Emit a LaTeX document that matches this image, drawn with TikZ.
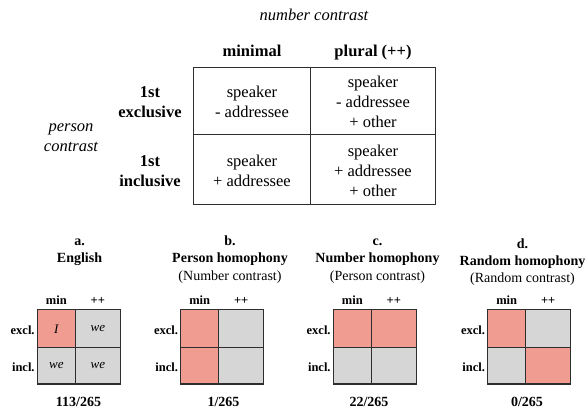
\documentclass[tikz,border=0pt]{standalone}
\usepackage{fontspec}
\setmainfont{Liberation Serif}
\definecolor{pinkc}{HTML}{F19C91}
\definecolor{grayc}{HTML}{D6D6D6}
\definecolor{linec}{HTML}{2E2E2E}
\newcommand\myBig{\fontsize{16.5}{20}\selectfont}
\newcommand\myMid{\fontsize{14}{17}\selectfont}
\newcommand\mySm{\fontsize{12.5}{15}\selectfont}
\newcommand\myWe{\fontsize{13}{15}\selectfont}
\newcommand\minigrid[6]{%
  \node[cellbox, minimum width=38pt, minimum height=38.3pt, fill=#3] (#1-11) at (#2+19,328.65) {};
  \node[cellbox, minimum width=45pt, minimum height=38.3pt, fill=#4] (#1-12) at (#2+60.5,328.65) {};
  \node[cellbox, minimum width=38pt, minimum height=36.2pt, fill=#5] (#1-21) at (#2+19,365.9) {};
  \node[cellbox, minimum width=45pt, minimum height=36.2pt, fill=#6] (#1-22) at (#2+60.5,365.9) {};
  \node[smb] (#1-min) at (#2+19,304) {min};
  \node[smb] (#1-pp) at (#2+60.5,304) {++};
  \node[smb, anchor=base east] (#1-excl) at (#2-2.5,334.5) {excl.};
  \node[smb, anchor=base east] (#1-incl) at (#2-2.5,371.5) {incl.};
}
\begin{document}
\begin{tikzpicture}[x=1pt,y=-1pt,
  txt/.style={anchor=base, inner sep=0pt},
  big/.style={txt, font=\myBig},
  bigb/.style={txt, font=\myBig\bfseries},
  bigi/.style={txt, font=\myBig\itshape},
  mid/.style={txt, font=\myMid},
  midb/.style={txt, font=\myMid\bfseries},
  smb/.style={txt, font=\mySm\bfseries},
  wetext/.style={txt, font=\myWe\itshape},
  cellbox/.style={draw=linec, line width=1.2pt, inner sep=0pt}]
\useasboundingbox (0,0) rectangle (587,410);

% ---------- top table ----------
\node[bigi] (numc) at (314,20) {number contrast};
\node[bigb] (hmin) at (252,56) {minimal};
\node[bigb] (hplu) at (373,56) {plural (++)};
\node[bigb] (r1a) at (150,97.3) {1st};
\node[bigb] (r1b) at (150,117.3) {exclusive};
\node[bigb] (r2a) at (150,166) {1st};
\node[bigb] (r2b) at (150,186) {inclusive};
\node[bigi] (perA) at (71,131) {person};
\node[bigi] (perB) at (71,151) {contrast};

\node[cellbox, minimum width=117.4pt, minimum height=67pt] (c11) at (252,100.8) {};
\node[cellbox, minimum width=124.6pt, minimum height=67pt] (c12) at (373,100.8) {};
\node[cellbox, minimum width=117.4pt, minimum height=70pt] (c21) at (252,169.3) {};
\node[cellbox, minimum width=124.6pt, minimum height=70pt] (c22) at (373,169.3) {};

\node[big] (t11a) at (252,97.3) {speaker};
\node[big] (t11b) at (252,117.3) {- addressee};
\node[big] (t12a) at (373,87.3) {speaker};
\node[big] (t12b) at (373,107.3) {- addressee};
\node[big] (t12c) at (373,127.3) {+ other};
\node[big] (t21a) at (252,166) {speaker};
\node[big] (t21b) at (252,186) {+ addressee};
\node[big] (t22a) at (373,156) {speaker};
\node[big] (t22b) at (373,176) {+ addressee};
\node[big] (t22c) at (373,196) {+ other};

% ---------- small panels ----------
\minigrid{a}{37.3}{pinkc}{grayc}{grayc}{grayc}
\minigrid{b}{180.7}{pinkc}{grayc}{pinkc}{grayc}
\minigrid{c}{333.3}{pinkc}{pinkc}{grayc}{grayc}
\minigrid{d}{487.7}{pinkc}{grayc}{grayc}{pinkc}

\node[wetext] (aI) at (56.3,333) {I};
\node[wetext] (aw12) at (97.8,331.6) {we};
\node[wetext] (aw21) at (56.3,368.9) {we};
\node[wetext] (aw22) at (97.8,368.9) {we};

% titles
\node[midb] (ta1) at (79.5,245) {a.};
\node[midb] (ta2) at (79.5,262) {English};
\node[midb] (tb1) at (230,245) {b.};
\node[midb] (tb2) at (230,262) {Person homophony};
\node[mid]  (tb3) at (230,280) {(Number contrast)};
\node[midb] (tc1) at (377.5,245) {c.};
\node[midb] (tc2) at (377.5,262) {Number homophony};
\node[mid]  (tc3) at (377.5,280) {(Person contrast)};
\node[midb] (td1) at (522.5,248.3) {d.};
\node[midb] (td2) at (522.5,265.7) {Random homophony};
\node[mid]  (td3) at (522.5,282.3) {(Random contrast)};

% counts
\node[midb] (na) at (78.5,406.7) {113/265};
\node[midb] (nb) at (223.5,406.7) {1/265};
\node[midb] (nc) at (369,406.7) {22/265};
\node[midb] (nd) at (527,406.7) {0/265};
\end{tikzpicture}
\end{document}
